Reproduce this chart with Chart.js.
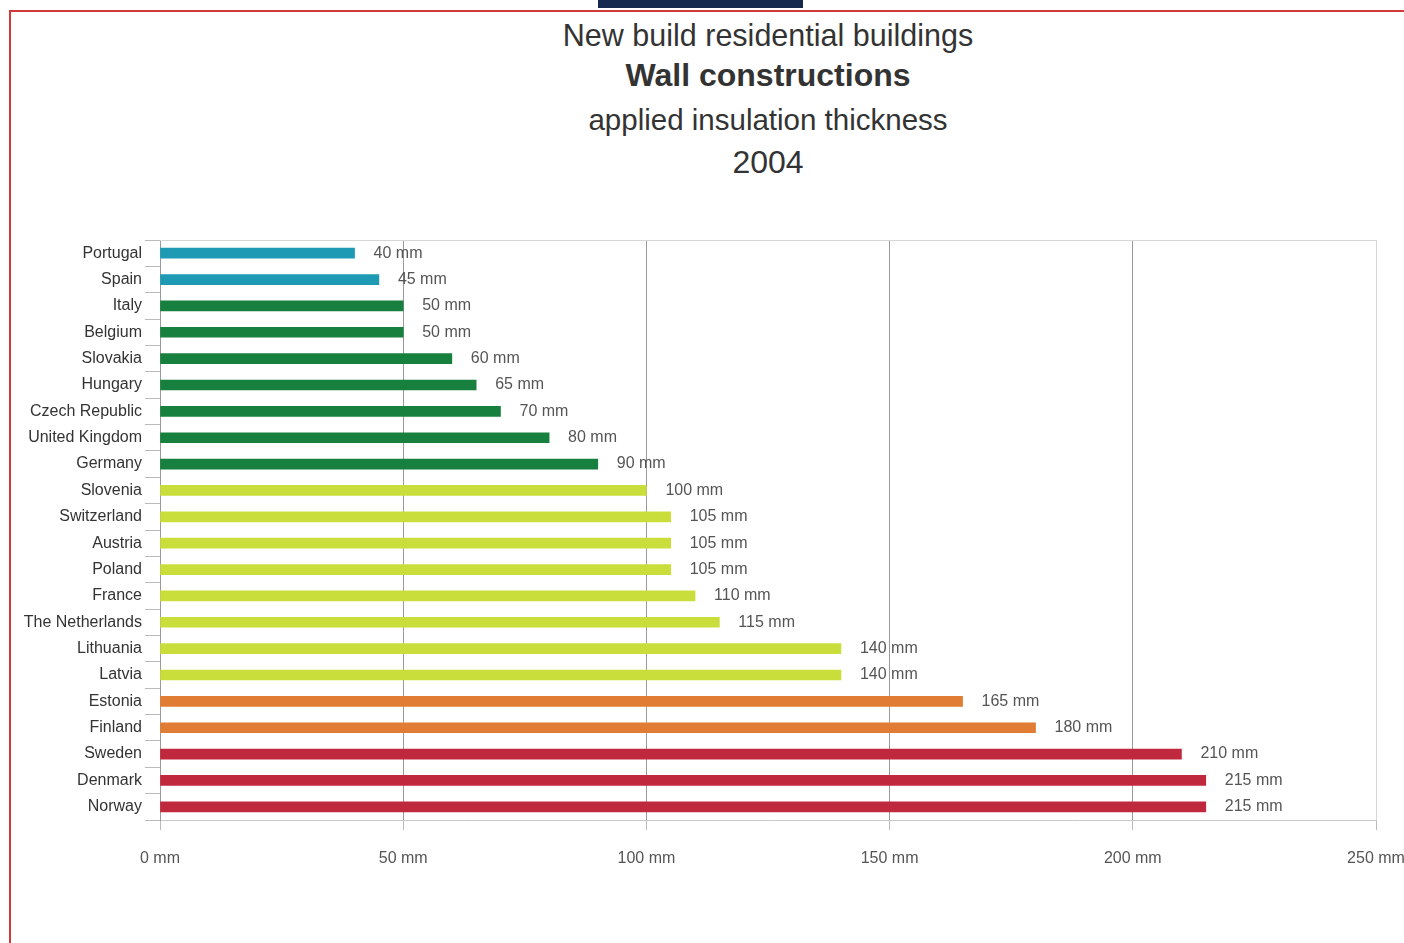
<!DOCTYPE html>
<html>
<head>
<meta charset="utf-8">
<script src="https://cdn.jsdelivr.net/npm/chart.js@4.4.1/dist/chart.umd.min.js"></script>
<style>
  body { margin: 0; background: #fff; }
  #wrap { position: relative; width: 1404px; height: 943px; overflow: hidden; font-family: "Liberation Sans", Arial, sans-serif; }
  #frame { position: absolute; left: 9px; top: 10px; width: 1420px; height: 960px; border: 2px solid #d03a3a; box-sizing: border-box; }
  #tab { position: absolute; left: 598px; top: 0; width: 205px; height: 8px; background: #15284e; }
  .t { position: absolute; left: 518px; width: 500px; text-align: center; color: #333; font-size: 30px; line-height: 34px; }
  canvas { position: absolute; left: 0; top: 0; }
</style>
</head>
<body>
<div id="wrap">
  <div id="frame"></div>
  <div id="tab"></div>
  <div class="t" style="top:18px;font-size:30.5px">New build residential buildings</div>
  <div class="t" style="top:58px;font-weight:bold;font-size:32px">Wall constructions</div>
  <div class="t" style="top:103px;font-size:29.5px">applied insulation thickness</div>
  <div class="t" style="top:145px;font-size:32px">2004</div>
  <canvas id="wall" width="1404" height="943"></canvas>
</div>
<script>
const countries = [
  "Portugal", "Spain", "Italy", "Belgium", "Slovakia", "Hungary",
  "Czech Republic", "United Kingdom", "Germany", "Slovenia", "Switzerland",
  "Austria", "Poland", "France", "The Netherlands", "Lithuania", "Latvia",
  "Estonia", "Finland", "Sweden", "Denmark", "Norway",
];
const thickness = [
  40, 45, 50, 50, 60, 65, 70, 80, 90, 100, 105, 105, 105, 110, 115, 140, 140,
  165, 180, 210, 215, 215,
];
const xTicks = [0, 50, 100, 150, 200, 250];

// colour band by thickness
function bandColor(v) {
  if (v < 50) return "#1f9ab4";
  if (v < 100) return "#17803e";
  if (v <= 140) return "#c9de3a";
  if (v < 200) return "#e07c34";
  return "#c0283e";
}

const valueLabels = {
  id: "valueLabels",
  afterDatasetsDraw(chart) {
    const ctx = chart.ctx;
    const meta = chart.getDatasetMeta(0);
    ctx.save();
    ctx.font = "16px 'Liberation Sans', Arial, sans-serif";
    ctx.fillStyle = "#555";
    ctx.textBaseline = "middle";
    ctx.textAlign = "left";
    meta.data.forEach((bar, i) => {
      ctx.fillText(thickness[i] + " mm", bar.x + 19, bar.y);
    });
    ctx.restore();
  },
};

const areaBorder = {
  id: "areaBorder",
  beforeDatasetsDraw(chart) {
    const a = chart.chartArea;
    const ctx = chart.ctx;
    ctx.save();
    ctx.strokeStyle = "#d6d6d6";
    ctx.lineWidth = 1;
    ctx.beginPath();
    ctx.moveTo(a.left, a.top + 0.5);
    ctx.lineTo(a.right, a.top + 0.5);
    ctx.stroke();
    ctx.restore();
  },
};

const ctx = document.getElementById("wall").getContext("2d");

new Chart(ctx, {
  type: "bar",
  data: {
    labels: countries,
    datasets: [
      {
        label: "Insulation thickness",
        data: thickness,
        backgroundColor: thickness.map(bandColor),
        barThickness: 10,
      },
    ],
  },
  options: {
    indexAxis: "y",
    responsive: false,
    animation: false,
    devicePixelRatio: 1,
    layout: { padding: { top: 240, left: 10, right: 28, bottom: 73 } },
    plugins: {
      legend: { display: false },
      tooltip: { enabled: false },
    },
    scales: {
      x: {
        min: 0,
        max: 250,
        afterBuildTicks(scale) {
          scale.ticks = xTicks.map((v) => ({ value: v }));
        },
        afterFit(scale) {
          scale.height = 50;
          scale.paddingLeft = 0;
          scale.paddingRight = 0;
        },
        ticks: {
          padding: 19,
          color: "#555",
          font: { family: "'Liberation Sans', Arial, sans-serif", size: 16 },
          callback: (v) => v + " mm",
        },
        grid: {
          color: (c) => (c.tick && c.tick.value === 250 ? "#d6d6d6" : "#9a9a9a"),
          tickLength: 10,
          tickColor: "#bbb",
        },
        border: { color: "#c8c8c8" },
      },
      y: {
        afterFit(scale) {
          scale.width = 150;
        },
        ticks: {
          padding: 3,
          color: "#333",
          font: { family: "'Liberation Sans', Arial, sans-serif", size: 16 },
        },
        grid: {
          offset: true,
          drawOnChartArea: false,
          tickLength: 15,
          tickColor: "#bbb",
        },
        border: { color: "#9a9a9a" },
      },
    },
  },
  plugins: [valueLabels, areaBorder],
});
</script>
</body>
</html>
